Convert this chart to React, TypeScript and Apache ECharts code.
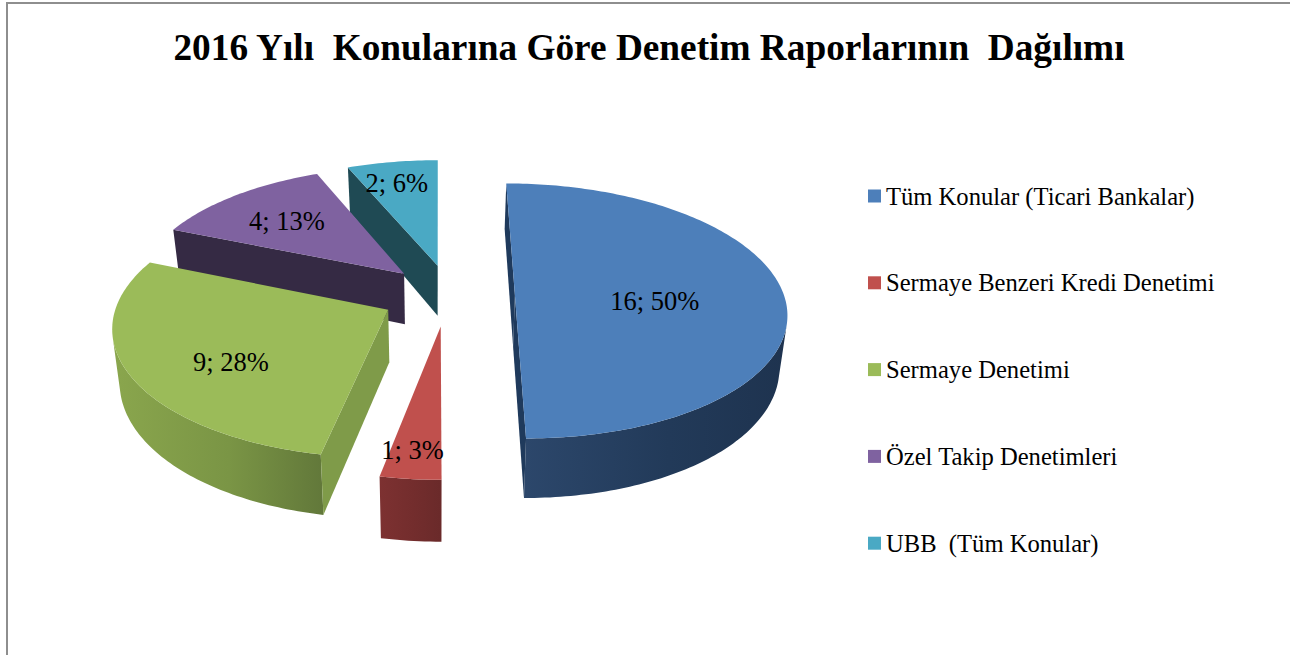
import React, { useEffect, useRef } from "react";
import * as echarts from "echarts";

const titleText = "2016 Yılı  Konularına Göre Denetim Raporlarının  Dağılımı";
const categories = [
  "Tüm Konular (Ticari Bankalar)",
  "Sermaye Benzeri Kredi Denetimi",
  "Sermaye Denetimi",
  "Özel Takip Denetimleri",
  "UBB  (Tüm Konular)",
];
const values = [16, 1, 9, 4, 2];

const topColors = ["#4d7fba", "#c0504d", "#9bbb59", "#7f62a0", "#4aa9c4"];
const radialColors = ["#1f3a5c", "#6f2b2b", "#7f9b49", "#352a44", "#1f4a54"];
const outerColors = [
  ["#2c476b", "#223a59", "#1e334f"],
  ["#7d3131", "#732d2d", "#6a2a2a"],
  ["#8aa64d", "#7a9545", "#62783a"],
  ["#352a44", "#352a44", "#352a44"],
  ["#1f4a54", "#1f4a54", "#1f4a54"],
];
const seriesZ = [5, 4, 3, 2, 1];
const labelRadius = [0.52, 0.76, 0.66, 0.58, 0.76];
const labelNudge = [[0, 6], [-6, 12], [10, 10], [-16, -6], [-5.5, -2]];
const sliceShift = [0, -2, -2, 1, 1.5];

// projection of the pie plane
const VX = 437, CX = 449, CY = 295, RX = 269, RY = 125.5, P = 0.125, EXPLODE = 0.245;
const DEPTH_SCALE = 0.977, DY_K = 1.055, DY_C = 35.5;

type Pt = [number, number];
const project = (X: number, Y: number): Pt => {
  const s = 1 / (1 - P * Y);
  return [VX + (CX - VX + RX * X) * s, CY + RY * Y * s];
};
const lower = (p: Pt): Pt => [VX + (p[0] - VX) * DEPTH_SCALE, p[1] * DY_K + DY_C];
const area = (q: Pt[]) => {
  let a = 0;
  q.forEach((p, i) => {
    const n = q[(i + 1) % q.length];
    a += p[0] * n[1] - n[0] * p[1];
  });
  return a;
};
const total = values.reduce((a, b) => a + b, 0);

function renderSlice(index: number, api: any) {
  const value = api.value(0) as number;
  let before = 0;
  for (let i = 0; i < index; i++) before += values[i];
  const t0 = (before / total) * Math.PI * 2;
  const t1 = ((before + value) / total) * Math.PI * 2;
  const mid = (t0 + t1) / 2;
  const ox = Math.sin(mid) * EXPLODE;
  const oy = -Math.cos(mid) * EXPLODE;
  const at = (t: number, r: number): Pt => {
    const p = project(ox + Math.sin(t) * r, oy - Math.cos(t) * r);
    return [p[0] + sliceShift[index], p[1]];
  };
  const apex = at(0, 0);
  const steps = Math.max(4, Math.round(((t1 - t0) * 180) / Math.PI));
  const rim: Pt[] = [];
  for (let i = 0; i <= steps; i++) rim.push(at(t0 + ((t1 - t0) * i) / steps, 1));

  const children: any[] = [];
  let run: Pt[] = [];
  const flush = () => {
    if (run.length > 1) {
      const pts = [...run, ...run.slice().reverse().map(lower)];
      children.push({
        type: "polygon",
        shape: { points: pts },
        style: {
          fill: new echarts.graphic.LinearGradient(0, 0, 1, 0, [
            { offset: 0, color: outerColors[index][0] },
            { offset: 0.55, color: outerColors[index][1] },
            { offset: 1, color: outerColors[index][2] },
          ]),
        },
        silent: true,
      });
    }
    run = [];
  };
  for (let i = 0; i < steps; i++) {
    const a = rim[i], b = rim[i + 1];
    if (area([a, b, lower(b), lower(a)]) < 0) {
      if (!run.length) run.push(a);
      run.push(b);
    } else flush();
  }
  flush();
  const walls: [Pt, Pt][] = [[apex, rim[0]], [rim[steps], apex]];
  walls.forEach(([a, b]) => {
    const q = [a, b, lower(b), lower(a)];
    if (area(q) < 0) {
      children.push({
        type: "polygon",
        shape: { points: q },
        style: { fill: radialColors[index] },
        silent: true,
      });
    }
  });
  children.push({
    type: "polygon",
    shape: { points: [apex, ...rim] },
    style: { fill: topColors[index] },
    silent: true,
  });
  const lp = at(mid, labelRadius[index]);
  const pct = Math.round((value / total) * 100);
  children.push({
    type: "text",
    x: lp[0] + labelNudge[index][0],
    y: lp[1] + labelNudge[index][1],
    z2: 50,
    silent: true,
    style: {
      text: `${value}; ${pct}%`,
      fill: "#000",
      font: '26.5px "Liberation Serif"',
      align: "center",
      verticalAlign: "middle",
    },
  });
  return { type: "group", children };
}

export default function App() {
  const ref = useRef<HTMLDivElement>(null);
  useEffect(() => {
    document.body.style.margin = "0";
    const chart = echarts.init(ref.current!, undefined, { renderer: "svg" });
    chart.setOption({
      animation: false,
      backgroundColor: "#fff",
      title: {
        text: titleText,
        left: 644,
        top: 24,
        textAlign: "center",
        textStyle: { fontFamily: "Liberation Serif", fontWeight: "bold", fontSize: 37.3, color: "#000" },
      },
      legend: {
        orient: "vertical",
        left: 868,
        top: 183.5,
        padding: 0,
        icon: "rect",
        itemWidth: 13,
        itemHeight: 13,
        itemGap: 61.8,
        selectedMode: false,
        data: categories,
        textStyle: { fontFamily: "Liberation Serif", fontSize: 24.6, color: "#000" },
      },
      graphic: [
        {
          type: "polyline",
          silent: true,
          shape: { points: [[7, 655], [7, 3], [1290, 3]] },
          style: { stroke: "#8e8e8e", lineWidth: 2, fill: "none" },
        },
      ],
      series: categories.map((name, i) => ({
        type: "custom",
        name,
        coordinateSystem: "none",
        z: seriesZ[i],
        itemStyle: { color: topColors[i] },
        data: [values[i]],
        renderItem: (_p: any, api: any) => renderSlice(i, api),
      })),
    });
    return () => chart.dispose();
  }, []);
  return <div ref={ref} style={{ width: 1290, height: 655 }} />;
}
